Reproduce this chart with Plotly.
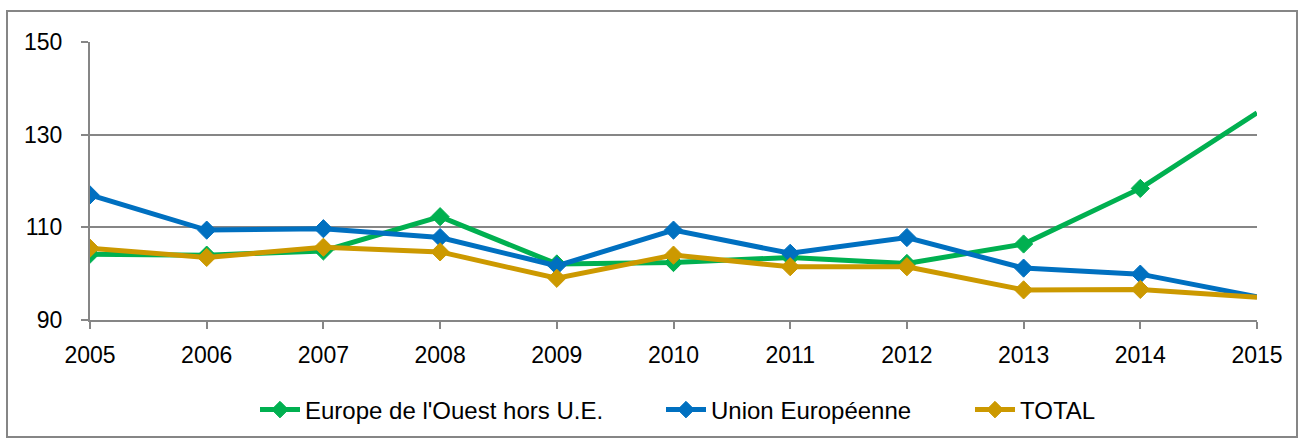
import plotly.graph_objects as go

years = [2005, 2006, 2007, 2008, 2009, 2010, 2011, 2012, 2013, 2014, 2015]
europe_ouest = [104.2, 104.0, 104.9, 112.3, 102.1, 102.4, 103.5, 102.2, 106.4, 118.4, 134.7]
union_euro = [117.0, 109.4, 109.7, 107.8, 101.7, 109.4, 104.4, 107.8, 101.2, 99.9, 95.0]
total = [105.5, 103.5, 105.7, 104.7, 99.0, 104.0, 101.5, 101.5, 96.5, 96.6, 94.9]

names = ["Europe de l'Ouest hors U.E.", "Union Européenne", "TOTAL"]
colors = ["#00B050", "#0070C0", "#CC9900"]
series = [europe_ouest, union_euro, total]

FONT = "'Liberation Sans', Arial, sans-serif"

L, R, T, B = 90, 1257, 42, 320
W, H = 1301, 441
pw, ph = R - L, B - T

legend_ids = ["legend", "legend2", "legend3"]
text_starts = [305, 711, 1020]

fig = go.Figure()
sizes = [14] * (len(years) - 1) + [0]
for n, c, s, lg in zip(names, colors, series, legend_ids):
    fig.add_trace(go.Scatter(
        x=years, y=s, name=n, mode="lines+markers", legend=lg,
        line=dict(color=c, width=5),
        marker=dict(symbol="diamond", size=sizes, color=c, opacity=1, line=dict(width=1, color=c)),
    ))

legend_common = dict(orientation="h", yanchor="middle", xanchor="left", y=(B - 410) / ph,
                     font=dict(size=24), itemwidth=40, bgcolor="rgba(0,0,0,0)", borderwidth=0)
legends = {}
for lg, ts in zip(legend_ids, text_starts):
    legends[lg] = dict(legend_common, x=(ts - 50 - L) / pw)

fig.update_layout(
    width=W, height=H,
    margin=dict(l=L, r=W - R, t=T, b=H - B, autoexpand=False),
    paper_bgcolor="white", plot_bgcolor="white",
    font=dict(family=FONT, size=23, color="#000000"),
    showlegend=True,
    xaxis=dict(range=[2005, 2015], tickmode="array", tickvals=years, ticktext=[str(y) for y in years],
               showgrid=False, zeroline=False, showline=True, linecolor="#868686", linewidth=2,
               ticks="outside", ticklen=7, tickcolor="#868686", tickwidth=2, fixedrange=True,
               ticklabelstandoff=6),
    yaxis=dict(range=[90, 150], dtick=20, tick0=90, showgrid=True, gridcolor="#868686", gridwidth=2,
               zeroline=False, showline=True, linecolor="#868686", linewidth=2,
               ticks="outside", ticklen=7, tickcolor="#868686", tickwidth=2, fixedrange=True,
               ticklabelstandoff=14),
    shapes=[dict(type="rect", xref="paper", yref="paper",
                 x0=(7 - L) / pw, x1=(1297 - L) / pw, y0=(B - 437) / ph, y1=(B - 11) / ph,
                 line=dict(color="#868686", width=2), fillcolor="rgba(0,0,0,0)", layer="below")],
    **legends,
)

fig.write_html("out.html", config={"displayModeBar": False},
               post_script="document.body.style.margin='0';")
